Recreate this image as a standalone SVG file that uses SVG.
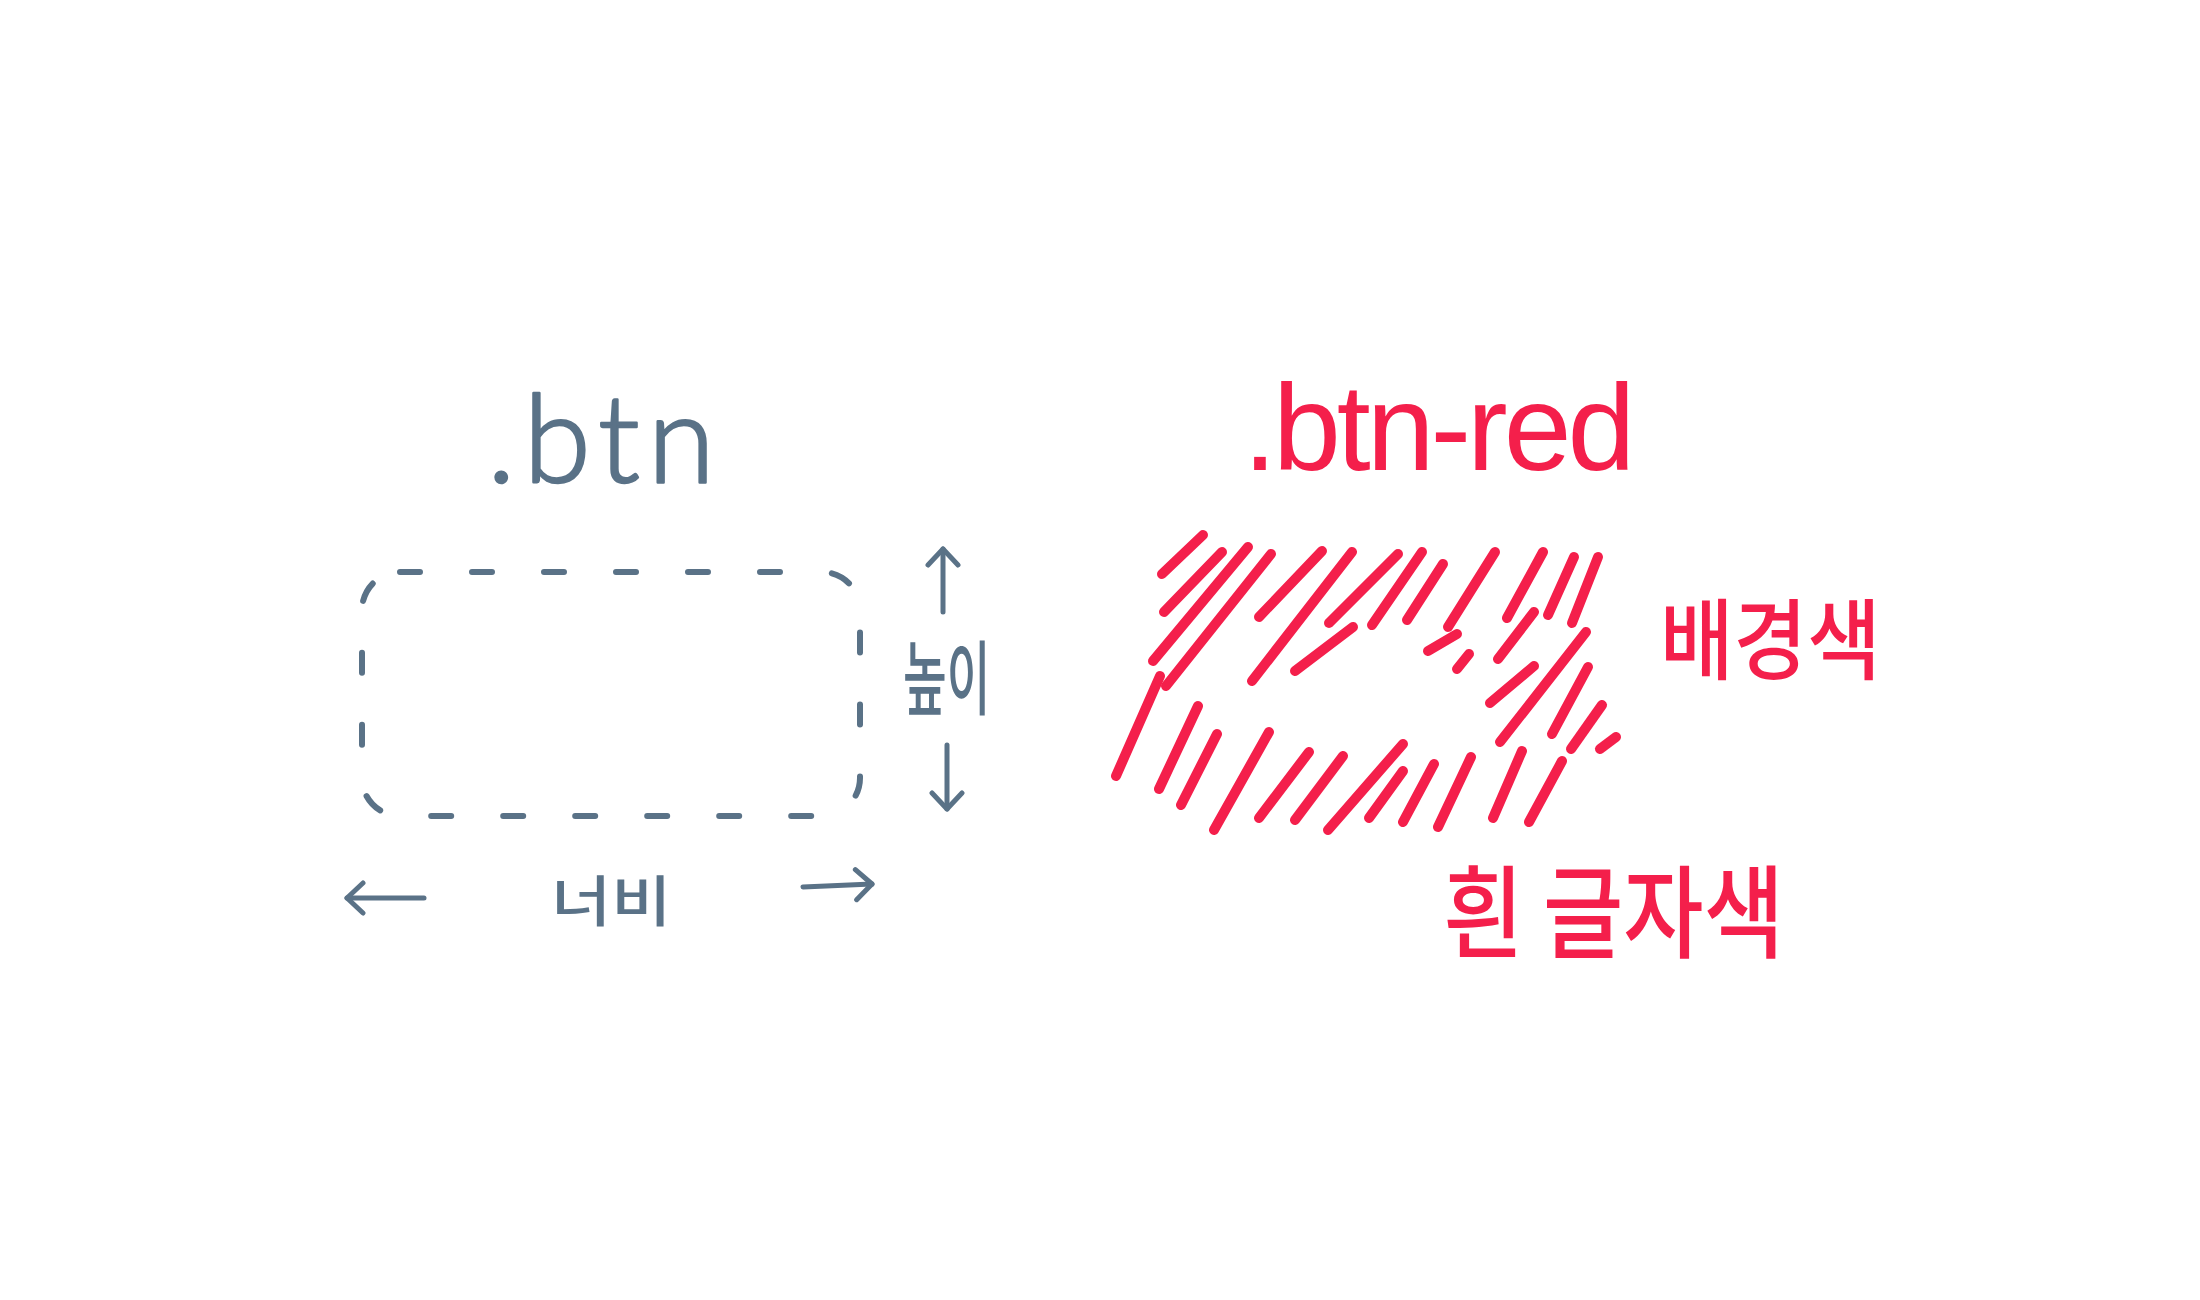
<svg xmlns="http://www.w3.org/2000/svg" width="2200" height="1300" viewBox="0 0 2200 1300">
  <style>
    .gray { fill: #5a7287; }
    .red { fill: #f41f4b; }
    .lat { font-family: "Liberation Sans", Arial, sans-serif; }
    .thin { font-family: Lato, Inter, "Open Sans", "DejaVu Sans", sans-serif; font-weight: 300; stroke: #5a7287; stroke-width: 2.5; stroke-linejoin: round; }
    .kr { font-family: "Noto Sans CJK KR", "Noto Sans", sans-serif; font-weight: 500; }
    .dash { fill: none; stroke: #5a7287; stroke-width: 6; stroke-linecap: round; stroke-dasharray: 20 52; }
    .conn { fill: none; stroke: #5a7287; stroke-width: 5; stroke-linecap: round; }
    .hatch line { stroke: #f41f4b; stroke-width: 10; stroke-linecap: round; }
  </style>
  <defs>
    <marker id="head" viewBox="-20 -18 26 36" refX="0" refY="0" markerWidth="26" markerHeight="36" markerUnits="userSpaceOnUse" orient="auto">
      <path d="M-16,-15 L0,0 L-16,15" fill="none" stroke="#5a7287" stroke-width="5" stroke-linecap="round" stroke-linejoin="round"/>
    </marker>
  </defs>
  <rect width="2200" height="1300" fill="#ffffff"/>

  <g id="btn">
    <text class="thin gray" x="487" y="482" font-size="122" letter-spacing="8">.btn</text>
    <rect class="dash" x="362" y="572" width="498" height="244" rx="38" ry="38"/>
  </g>

  <g id="height-label">
    <text class="kr gray" transform="translate(903,708) scale(0.82,1.4)" font-size="58">높이</text>
  </g>

  <g id="width-label">
    <text class="kr gray" transform="translate(551,921) scale(1.13,0.95)" font-size="58">너비</text>
  </g>

  <g id="btn-red">
    <text class="lat red" x="1243" y="470" font-size="122" letter-spacing="-4">.btn-red</text>
    <g class="hatch">
      <line x1="1162" y1="574" x2="1203" y2="535"/>
      <line x1="1164" y1="612" x2="1222" y2="552"/>
      <line x1="1153" y1="661" x2="1248" y2="547"/>
      <line x1="1166" y1="686" x2="1271" y2="554"/>
      <line x1="1116" y1="776" x2="1160" y2="676"/>
      <line x1="1259" y1="617" x2="1322" y2="551"/>
      <line x1="1252" y1="681" x2="1352" y2="552"/>
      <line x1="1329" y1="623" x2="1398" y2="554"/>
      <line x1="1295" y1="671" x2="1353" y2="627"/>
      <line x1="1372" y1="625" x2="1422" y2="552"/>
      <line x1="1407" y1="620" x2="1443" y2="564"/>
      <line x1="1448" y1="627" x2="1495" y2="552"/>
      <line x1="1428" y1="651" x2="1457" y2="634"/>
      <line x1="1457" y1="669" x2="1469" y2="654"/>
      <line x1="1507" y1="618" x2="1543" y2="552"/>
      <line x1="1548" y1="615" x2="1574" y2="557"/>
      <line x1="1572" y1="623" x2="1598" y2="557"/>
      <line x1="1498" y1="659" x2="1534" y2="612"/>
      <line x1="1490" y1="703" x2="1534" y2="666"/>
      <line x1="1500" y1="742" x2="1586" y2="632"/>
      <line x1="1552" y1="734" x2="1588" y2="667"/>
      <line x1="1571" y1="749" x2="1602" y2="705"/>
      <line x1="1600" y1="749" x2="1616" y2="737"/>
      <line x1="1159" y1="789" x2="1198" y2="706"/>
      <line x1="1181" y1="805" x2="1217" y2="734"/>
      <line x1="1214" y1="830" x2="1269" y2="732"/>
      <line x1="1259" y1="818" x2="1309" y2="752"/>
      <line x1="1295" y1="820" x2="1343" y2="756"/>
      <line x1="1328" y1="830" x2="1403" y2="744"/>
      <line x1="1369" y1="818" x2="1403" y2="771"/>
      <line x1="1403" y1="822" x2="1434" y2="764"/>
      <line x1="1438" y1="827" x2="1471" y2="757"/>
      <line x1="1493" y1="818" x2="1522" y2="751"/>
      <line x1="1529" y1="822" x2="1562" y2="761"/>
    </g>
  </g>

  <g id="bg-label">
    <text class="kr red" transform="translate(1660,672) scale(1,1.1)" font-size="80">배경색</text>
  </g>

  <g id="text-label">
    <text class="kr red" transform="translate(1443,950) scale(1.12,1.3)" font-size="78">흰 글자색</text>
  </g>

  <g id="connectors">
    <line class="conn" x1="943" y1="612" x2="943" y2="549" marker-end="url(#head)"/>
    <line class="conn" x1="947" y1="745" x2="947" y2="809" marker-end="url(#head)"/>
    <line class="conn" x1="424" y1="898" x2="347" y2="898" marker-end="url(#head)"/>
    <line class="conn" x1="803" y1="887" x2="872" y2="884" marker-end="url(#head)"/>
  </g>
</svg>
